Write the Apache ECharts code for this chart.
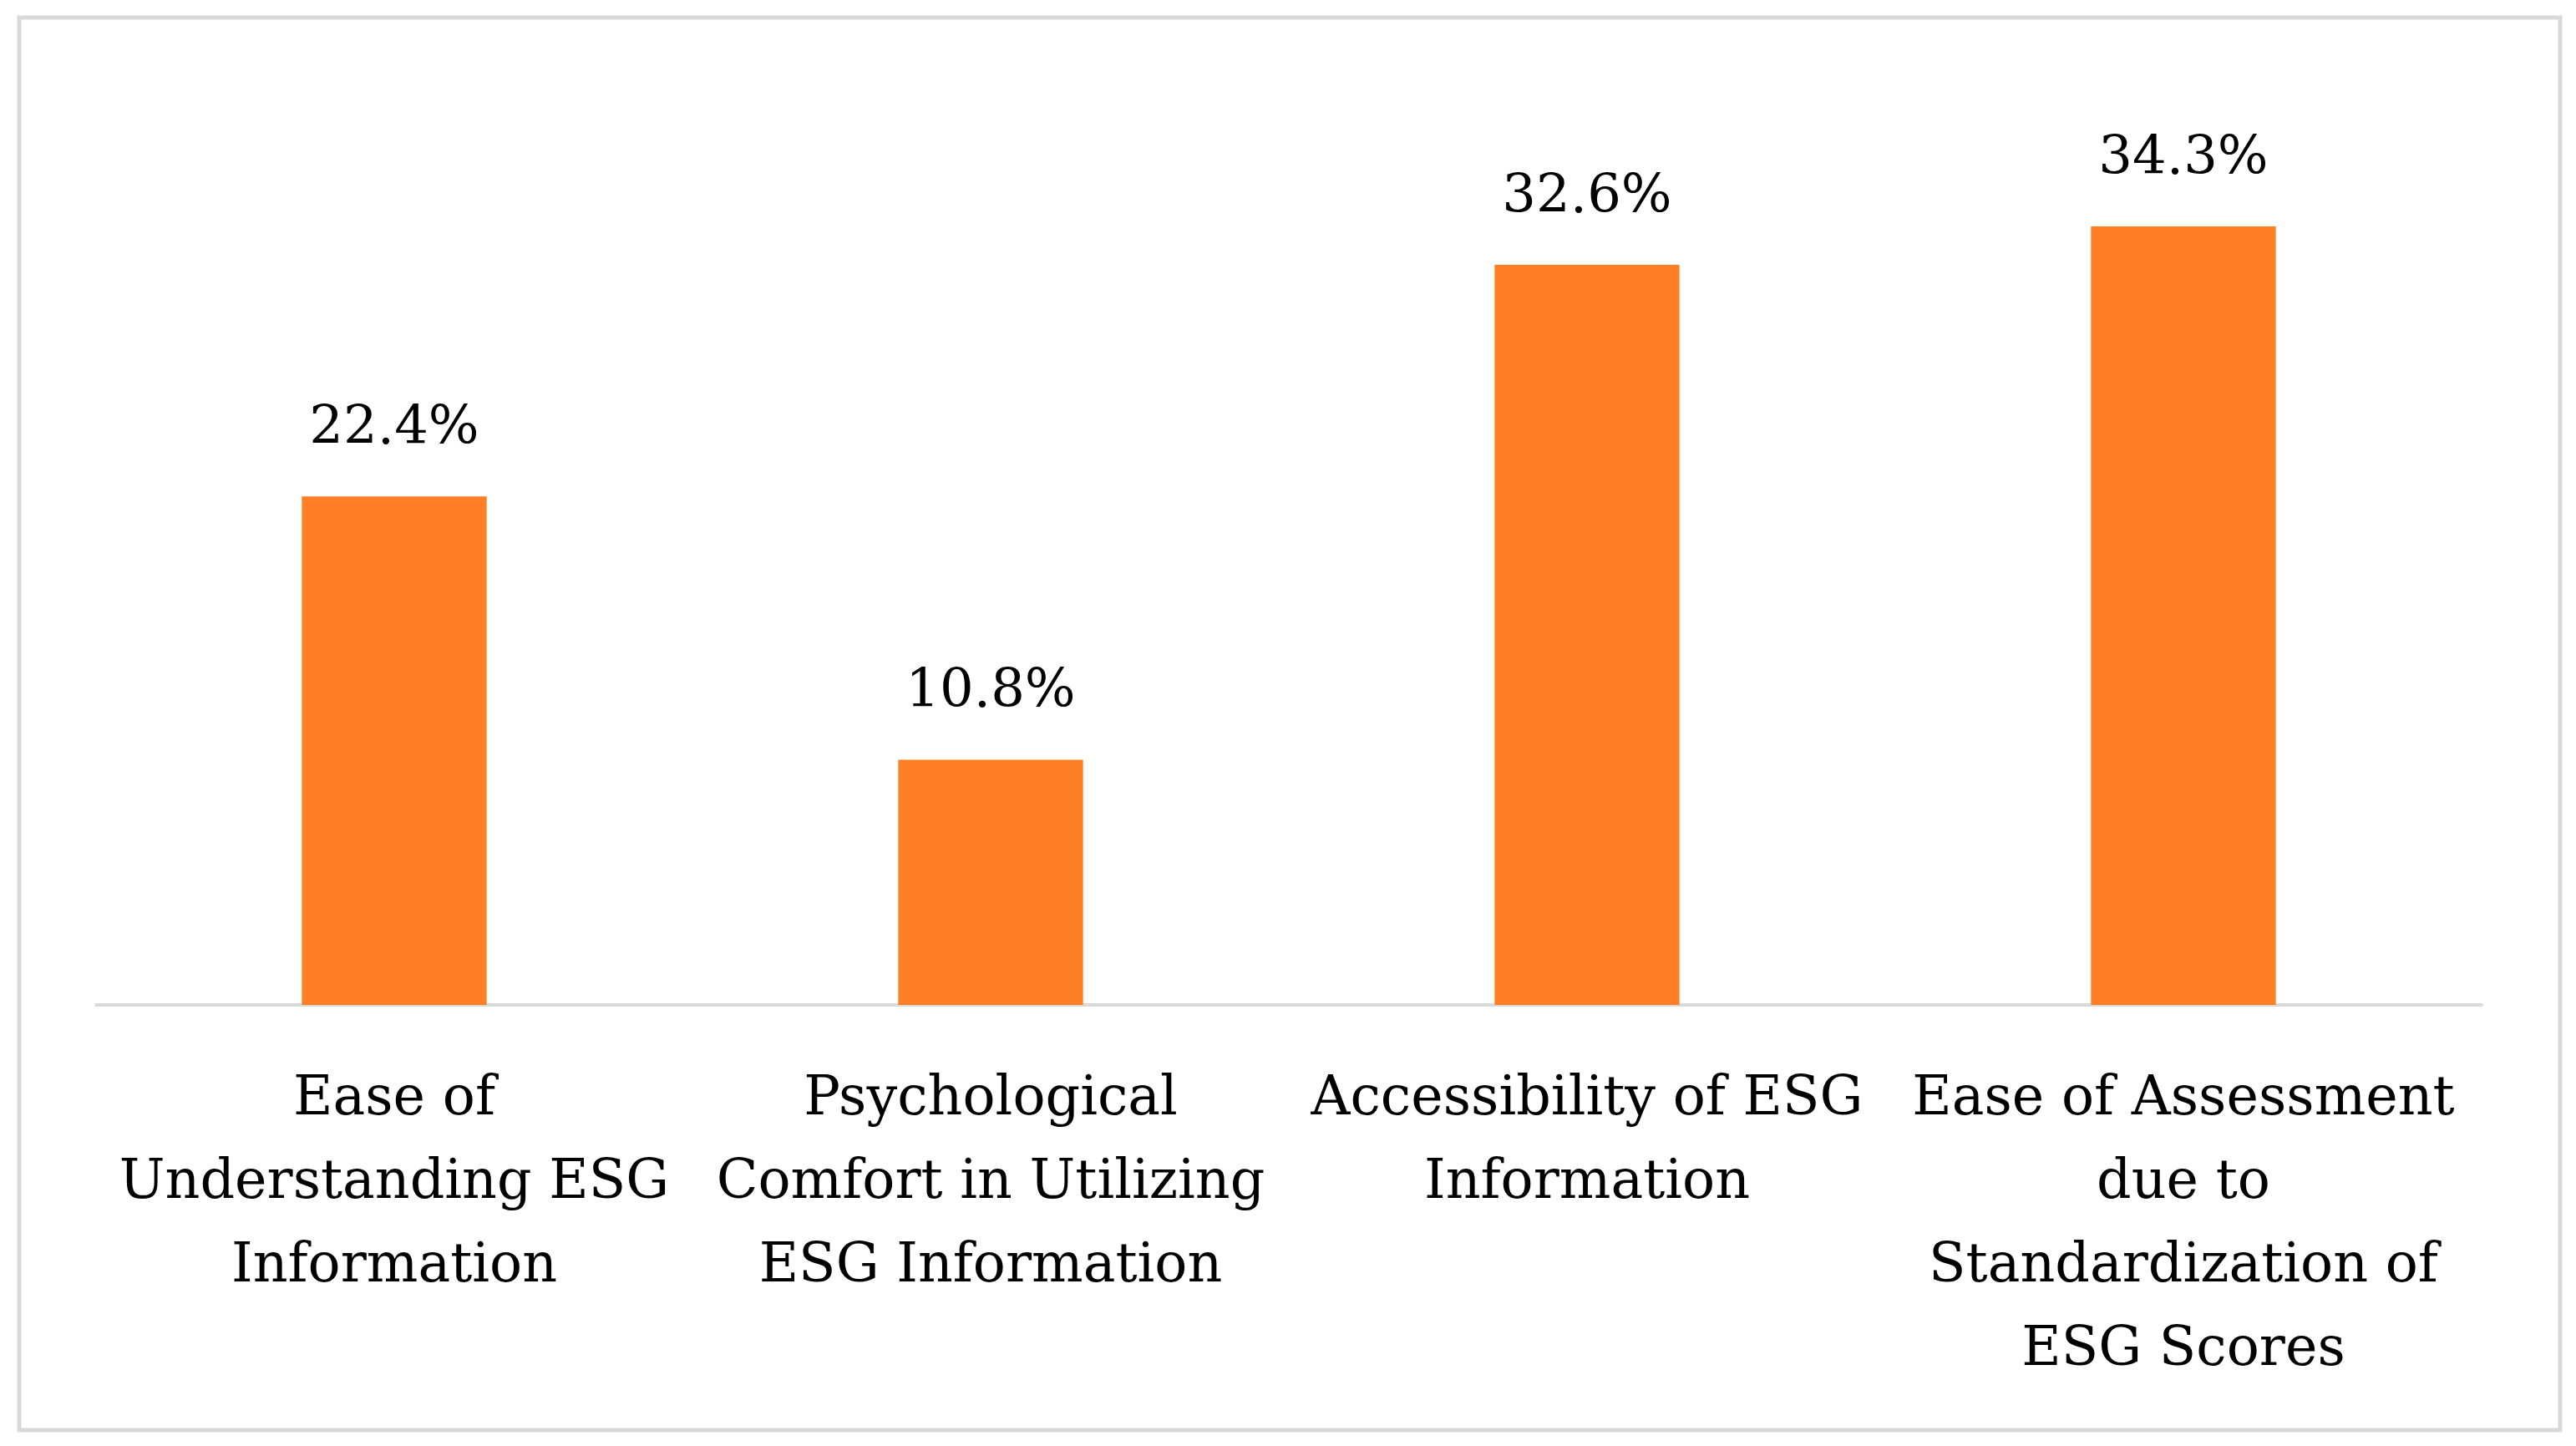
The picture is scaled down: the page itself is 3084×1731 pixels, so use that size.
<!DOCTYPE html>
<html>
<head>
<meta charset="utf-8">
<script src="https://cdn.jsdelivr.net/npm/echarts@6/dist/echarts.min.js"></script>
<style>
  html, body { margin: 0; padding: 0; background: #fff; }
  #main { width: 3084px; height: 1731px; }
</style>
</head>
<body>
<div id="main"></div>
<script>
// categories and values
var categories = [
    'Ease of\nUnderstanding ESG\nInformation',
    'Psychological\nComfort in Utilizing\nESG Information',
    'Accessibility of ESG\nInformation',
    'Ease of Assessment\ndue to\nStandardization of\nESG Scores'
];
var shares = [22.4, 10.8, 32.6, 34.3];

var chart = echarts.init(document.getElementById('main'));
var serif = 'DejaVu Serif';

chart.setOption({
    backgroundColor: '#ffffff',
    animation: false,
    graphic: [{
        type: 'rect',
        shape: { x: 23, y: 21, width: 3042, height: 1691 },
        style: { fill: 'none', stroke: '#d9d9d9', lineWidth: 5 },
        silent: true
    }],
    grid: {
        left: 115,
        right: 113,
        top: 116,
        bottom: 528
    },
    xAxis: {
        type: 'category',
        data: categories,
        axisLine: { show: true, lineStyle: { color: '#d9d9d9', width: 4 } },
        axisTick: { show: false },
        axisLabel: {
            interval: 0,
            margin: 64,
            color: '#000',
            fontFamily: serif,
            fontSize: 65,
            lineHeight: 100
        }
    },
    yAxis: {
        type: 'value',
        min: 0,
        max: 40,
        show: false,
        splitLine: { show: false }
    },
    series: [{
        type: 'bar',
        data: shares,
        barWidth: '31%',
        itemStyle: { color: '#ff7f27' },
        label: {
            show: true,
            position: 'top',
            distance: 48,
            color: '#000',
            fontFamily: serif,
            fontSize: 64,
            lineHeight: 64,
            formatter: function (p) { return p.value.toFixed(1) + '%'; }
        }
    }]
});
</script>
</body>
</html>
